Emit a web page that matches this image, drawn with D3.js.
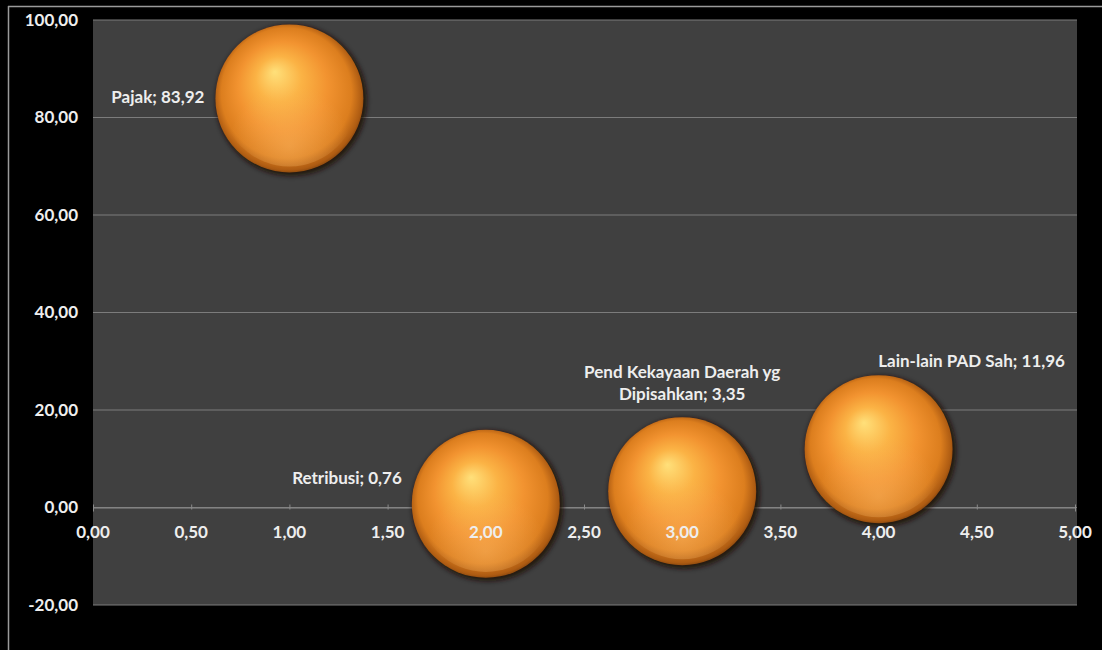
<!DOCTYPE html>
<html><head><meta charset="utf-8">
<script src="https://cdn.jsdelivr.net/npm/d3@7"></script>
<style>
html,body{margin:0;padding:0;background:#000;}
svg{display:block;}
text{font-family:Lato,"Open Sans",sans-serif;font-weight:700;fill:#eeeeee;}
</style></head>
<body>
<svg id="chart" width="1102" height="650"></svg>
<script>
const categories = ["Pajak", "Retribusi", "Pend Kekayaan Daerah yg Dipisahkan", "Lain-lain PAD Sah"];
const xValues = [1, 2, 3, 4];
const yValues = [83.92, 0.76, 3.35, 11.96];
const bubbleSizes = [1, 1, 1, 1];
const valueLabels = ["83,92", "0,76", "3,35", "11,96"];
const xTicks = [0, 0.5, 1, 1.5, 2, 2.5, 3, 3.5, 4, 4.5, 5];
const yTicks = [-20, 0, 20, 40, 60, 80, 100];

const svg = d3.select("#chart");
const fmt = v => d3.format(".2f")(v).replace(".", ",").replace("\u2212", "-");

const L = 93, R = 1077, T = 20, B = 605;
const x = d3.scaleLinear().domain([0, 5]).range([L, 1075]);
const y = d3.scaleLinear().domain([-20, 100]).range([B, T]);
const r = d3.scaleSqrt().domain([0, 1]).range([0, 74]);

// frame lines
svg.append("line").attr("x1", 8).attr("x2", 1102).attr("y1", 6.5).attr("y2", 6.5).attr("stroke", "#9a9a9a").attr("stroke-width", 1.5);
svg.append("line").attr("x1", 8.5).attr("x2", 8.5).attr("y1", 6).attr("y2", 650).attr("stroke", "#9a9a9a").attr("stroke-width", 1.5);

// plot area
svg.append("rect").attr("x", L).attr("y", T).attr("width", R - L).attr("height", B - T).attr("fill", "#404040");

// gridlines
svg.append("g").selectAll("line").data(yTicks).join("line")
  .attr("x1", L).attr("x2", R).attr("y1", d => y(d)).attr("y2", d => y(d))
  .attr("stroke", "#7c7c7c").attr("stroke-width", 1.2);

// y axis labels
const yAxis = d3.axisLeft(y).tickValues(yTicks).tickFormat(fmt).tickSize(0).tickPadding(15);
const gy = svg.append("g").attr("transform", `translate(${L},0)`).call(yAxis);
gy.select(".domain").remove();
gy.selectAll("text").attr("font-size", 17).style("fill", "#eeeeee").attr("font-family", null);

// x axis line + ticks (behind bubbles)
const xAxis = d3.axisBottom(x).tickValues(xTicks).tickFormat(fmt).tickSize(4).tickPadding(9);
const gx = svg.append("g").attr("transform", `translate(0,${y(0)})`).call(xAxis);
gx.select(".domain").attr("stroke", "#8a8a8a");
gx.selectAll(".tick line").attr("stroke", "#8a8a8a").attr("y1", -3).attr("y2", 2);
gx.selectAll(".tick text").remove();

// gradients
const defs = svg.append("defs");
const g1 = defs.append("radialGradient").attr("id", "sphere").attr("cx", "50%").attr("cy", "50%").attr("r", "55%").attr("fx", "40%").attr("fy", "32%");
[[0, "#ffe07a"], [0.28, "#fbb345"], [0.55, "#f29330"], [0.8, "#dc7e1e"], [0.91, "#ad5b12"], [1, "#3e1f06"]]
  .forEach(([o, c]) => g1.append("stop").attr("offset", o).attr("stop-color", c));
const g2 = defs.append("radialGradient").attr("id", "glow").attr("cx", "50%").attr("cy", "85%").attr("r", "45%");
g2.append("stop").attr("offset", 0).attr("stop-color", "#ffc070").attr("stop-opacity", 0.4);
g2.append("stop").attr("offset", 1).attr("stop-color", "#ffc070").attr("stop-opacity", 0);
const blur = defs.append("filter").attr("id", "shadow").attr("x", "-20%").attr("y", "-20%").attr("width", "140%").attr("height", "140%");
blur.append("feGaussianBlur").attr("stdDeviation", 2.5);

const data = categories.map((c, i) => ({c, x: xValues[i], y: yValues[i], s: bubbleSizes[i], v: valueLabels[i]}));

const bub = svg.append("g").selectAll("g").data(data).join("g")
  .attr("transform", d => `translate(${x(d.x)},${y(d.y)})`);
bub.append("circle").attr("r", d => r(d.s) + 1.5).attr("cx", 2).attr("cy", 2).attr("fill", "#1a0c02").attr("filter", "url(#shadow)").attr("opacity", 0.8);
bub.append("circle").attr("r", d => r(d.s)).attr("fill", "url(#sphere)");
bub.append("circle").attr("r", d => r(d.s) * 0.92).attr("fill", "url(#glow)");

// x tick labels on top of bubbles
svg.append("g").selectAll("text").data(xTicks).join("text")
  .attr("x", d => x(d)).attr("y", y(0) + 30).attr("text-anchor", "middle")
  .attr("font-size", 17).text(fmt);

// data labels
const labelPos = [
  {dx: -85, dy: 5, anchor: "end", lines: d => [`${d.c}; ${d.v}`]},
  {dx: -84, dy: -20, anchor: "end", lines: d => [`${d.c}; ${d.v}`]},
  {dx: 0, dy: -113, anchor: "middle", lines: d => ["Pend Kekayaan Daerah yg", `Dipisahkan; ${d.v}`]},
  {dx: 93, dy: -82, anchor: "middle", lines: d => [`${d.c}; ${d.v}`]}
];
data.forEach((d, i) => {
  const p = labelPos[i];
  const t = svg.append("text").attr("text-anchor", p.anchor).attr("font-size", 17)
    .attr("x", x(d.x) + p.dx).attr("y", y(d.y) + p.dy);
  p.lines(d).forEach((ln, k) => t.append("tspan").attr("x", x(d.x) + p.dx).attr("dy", k ? 22 : 0).text(ln));
});
</script>
</body></html>
